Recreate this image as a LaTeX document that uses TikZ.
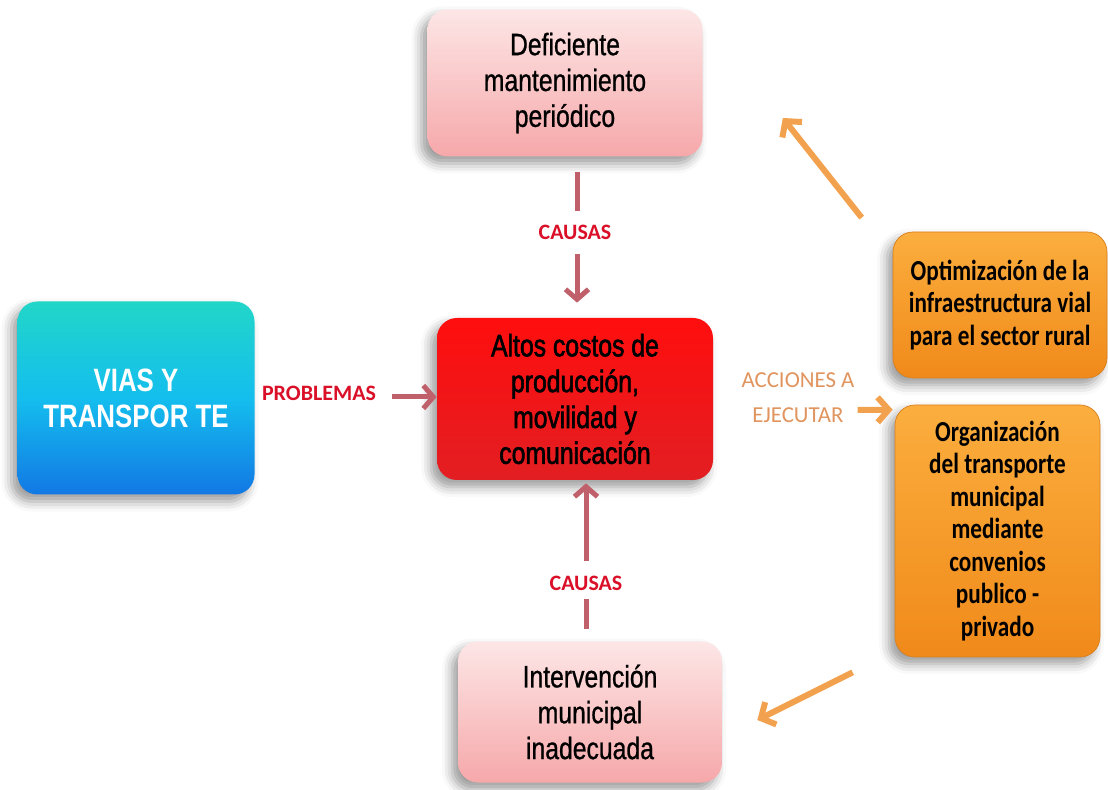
\documentclass[tikz,border=0pt]{standalone}
\usepackage{fontspec}
\usetikzlibrary{positioning, calc, arrows.meta, shadows.blur}
\newfontfamily\boxfont[FakeStretch=0.8]{Liberation Sans}
\newfontfamily\hotfont[FakeStretch=0.8, FakeBold=1.8]{Liberation Sans}
\newfontfamily\pinkfont[FakeStretch=0.8, FakeBold=0.8]{Liberation Sans}
\newfontfamily\tagfont{Carlito}
\newfontfamily\actfont[FakeStretch=0.8]{Carlito}
\definecolor{viatop}{HTML}{22D6C8}
\definecolor{viamid}{HTML}{14BEEE}
\definecolor{viabot}{HTML}{1278E4}
\definecolor{hottop}{HTML}{FF0E0E}
\definecolor{hotbot}{HTML}{E21E22}
\definecolor{pinktop}{HTML}{FDE6E6}
\definecolor{pinkbot}{HTML}{F6A8AA}
\definecolor{orgtop}{HTML}{FBAE3E}
\definecolor{orgbot}{HTML}{F08A1A}
\definecolor{orgline}{HTML}{D9801E}
\definecolor{tagred}{HTML}{DA1028}
\definecolor{tagorange}{HTML}{E0945E}
\definecolor{arrowred}{HTML}{C0606A}
\definecolor{arroworange}{HTML}{F2A24E}

\begin{document}
\begin{tikzpicture}[
  base/.style={rounded corners=0.4cm, align=center, inner sep=0pt,
    blur shadow={shadow xshift=-0.12cm, shadow yshift=-0.14cm, shadow opacity=40, shadow blur radius=0.2cm}},
  topicbox/.style={base, top color=viatop, bottom color=viabot, middle color=viamid,
    text=white, font=\boxfont\bfseries\fontsize{18.4pt}{20.4pt}\selectfont},
  hotbox/.style={base, top color=hottop, bottom color=hotbot,
    font=\hotfont\fontsize{17.6pt}{20.4pt}\selectfont},
  causebox/.style={base, top color=pinktop, bottom color=pinkbot,
    font=\pinkfont\fontsize{17.6pt}{20.4pt}\selectfont},
  actbox/.style={base, draw=orgline, line width=0.4pt, top color=orgtop, bottom color=orgbot,
    font=\actfont\bfseries\fontsize{16.5pt}{18.5pt}\selectfont},
  tag/.style={text=tagred, font=\tagfont\bfseries\fontsize{12.5pt}{15pt}\selectfont},
  acttag/.style={text=tagorange, align=center, font=\tagfont\fontsize{13pt}{19.8pt}\selectfont},
  redline/.style={draw=arrowred, line width=0.1cm},
  redarrow/.style={redline, -{Straight Barb[length=0.2cm, width=0.46cm]}},
  orangearrow/.style={draw=arroworange, line width=0.12cm, -{Straight Barb[length=0.22cm, width=0.5cm]}}]
  \useasboundingbox (0,0) rectangle (22.16,-15.8);

  % boxes
  \node[topicbox, minimum width=4.74cm, minimum height=3.86cm] (vias) at (2.72,-7.96) {VIAS Y\\TRANSPOR TE};
  \node[hotbox, minimum width=5.52cm, minimum height=3.24cm] (altos) at (11.5,-7.98)
    {Altos costos de\\producción,\\movilidad y\\comunicación};
  \node[causebox, minimum width=5.5cm, minimum height=2.94cm] (defi) at (11.3,-1.66)
    {Deficiente\\mantenimiento\\periódico};
  \node[causebox, minimum width=5.28cm, minimum height=2.82cm] (interv) at (11.8,-14.24)
    {Intervención\\municipal\\inadecuada};
  \node[actbox, minimum width=4.28cm, minimum height=2.92cm] (optim) at (20.0,-6.1)
    {Optimización de la\\infraestructura vial\\para el sector rural};
  \node[actbox, minimum width=4.1cm, minimum height=5.04cm] (organ) at (19.95,-10.62)
    {Organización\\del transporte\\municipal\\mediante\\convenios\\publico -\\privado};

  % labels
  \node[tag] (problemas) at (6.38,-7.86) {PROBLEMAS};
  \node[tag] (causasA) at (11.5,-4.64) {CAUSAS};
  \node[tag] (causasB) at (11.72,-11.66) {CAUSAS};
  \node[acttag] (acciones) at (15.96,-7.96) {ACCIONES A\\EJECUTAR};

  % connectors
  \draw[redarrow, shorten <=0.2cm] (problemas.east |- 0,-7.94) -- (altos.west |- 0,-7.94);
  \draw[redline, shorten <=0.3cm, shorten >=0.16cm] (defi.south -| 11.54,0) -- (causasA.north -| 11.54,0);
  \draw[redarrow, shorten <=0.18cm, shorten >=0.3cm] (causasA.south -| 11.54,0) -- (altos.north -| 11.54,0);
  \draw[redline, shorten <=0.24cm, shorten >=0.06cm] (interv.north -| causasB) -- (causasB.south);
  \draw[redarrow, shorten <=0.18cm, shorten >=0.06cm] (causasB.north) -- (altos.south -| causasB);
  \draw[orangearrow] ($(acciones.east)+(-0.06,-0.24)$) -- ($(organ.north west)+(-0.04,-0.1)$);
  \draw[orangearrow] ($(optim.north west)+(-0.62,0.28)$) -- ($(defi.east)+(1.6,-0.7)$);
  \draw[orangearrow] ($(organ.south west)+(-0.84,-0.3)$) -- ($(interv.east)+(0.7,-0.16)$);
\end{tikzpicture}
\end{document}
